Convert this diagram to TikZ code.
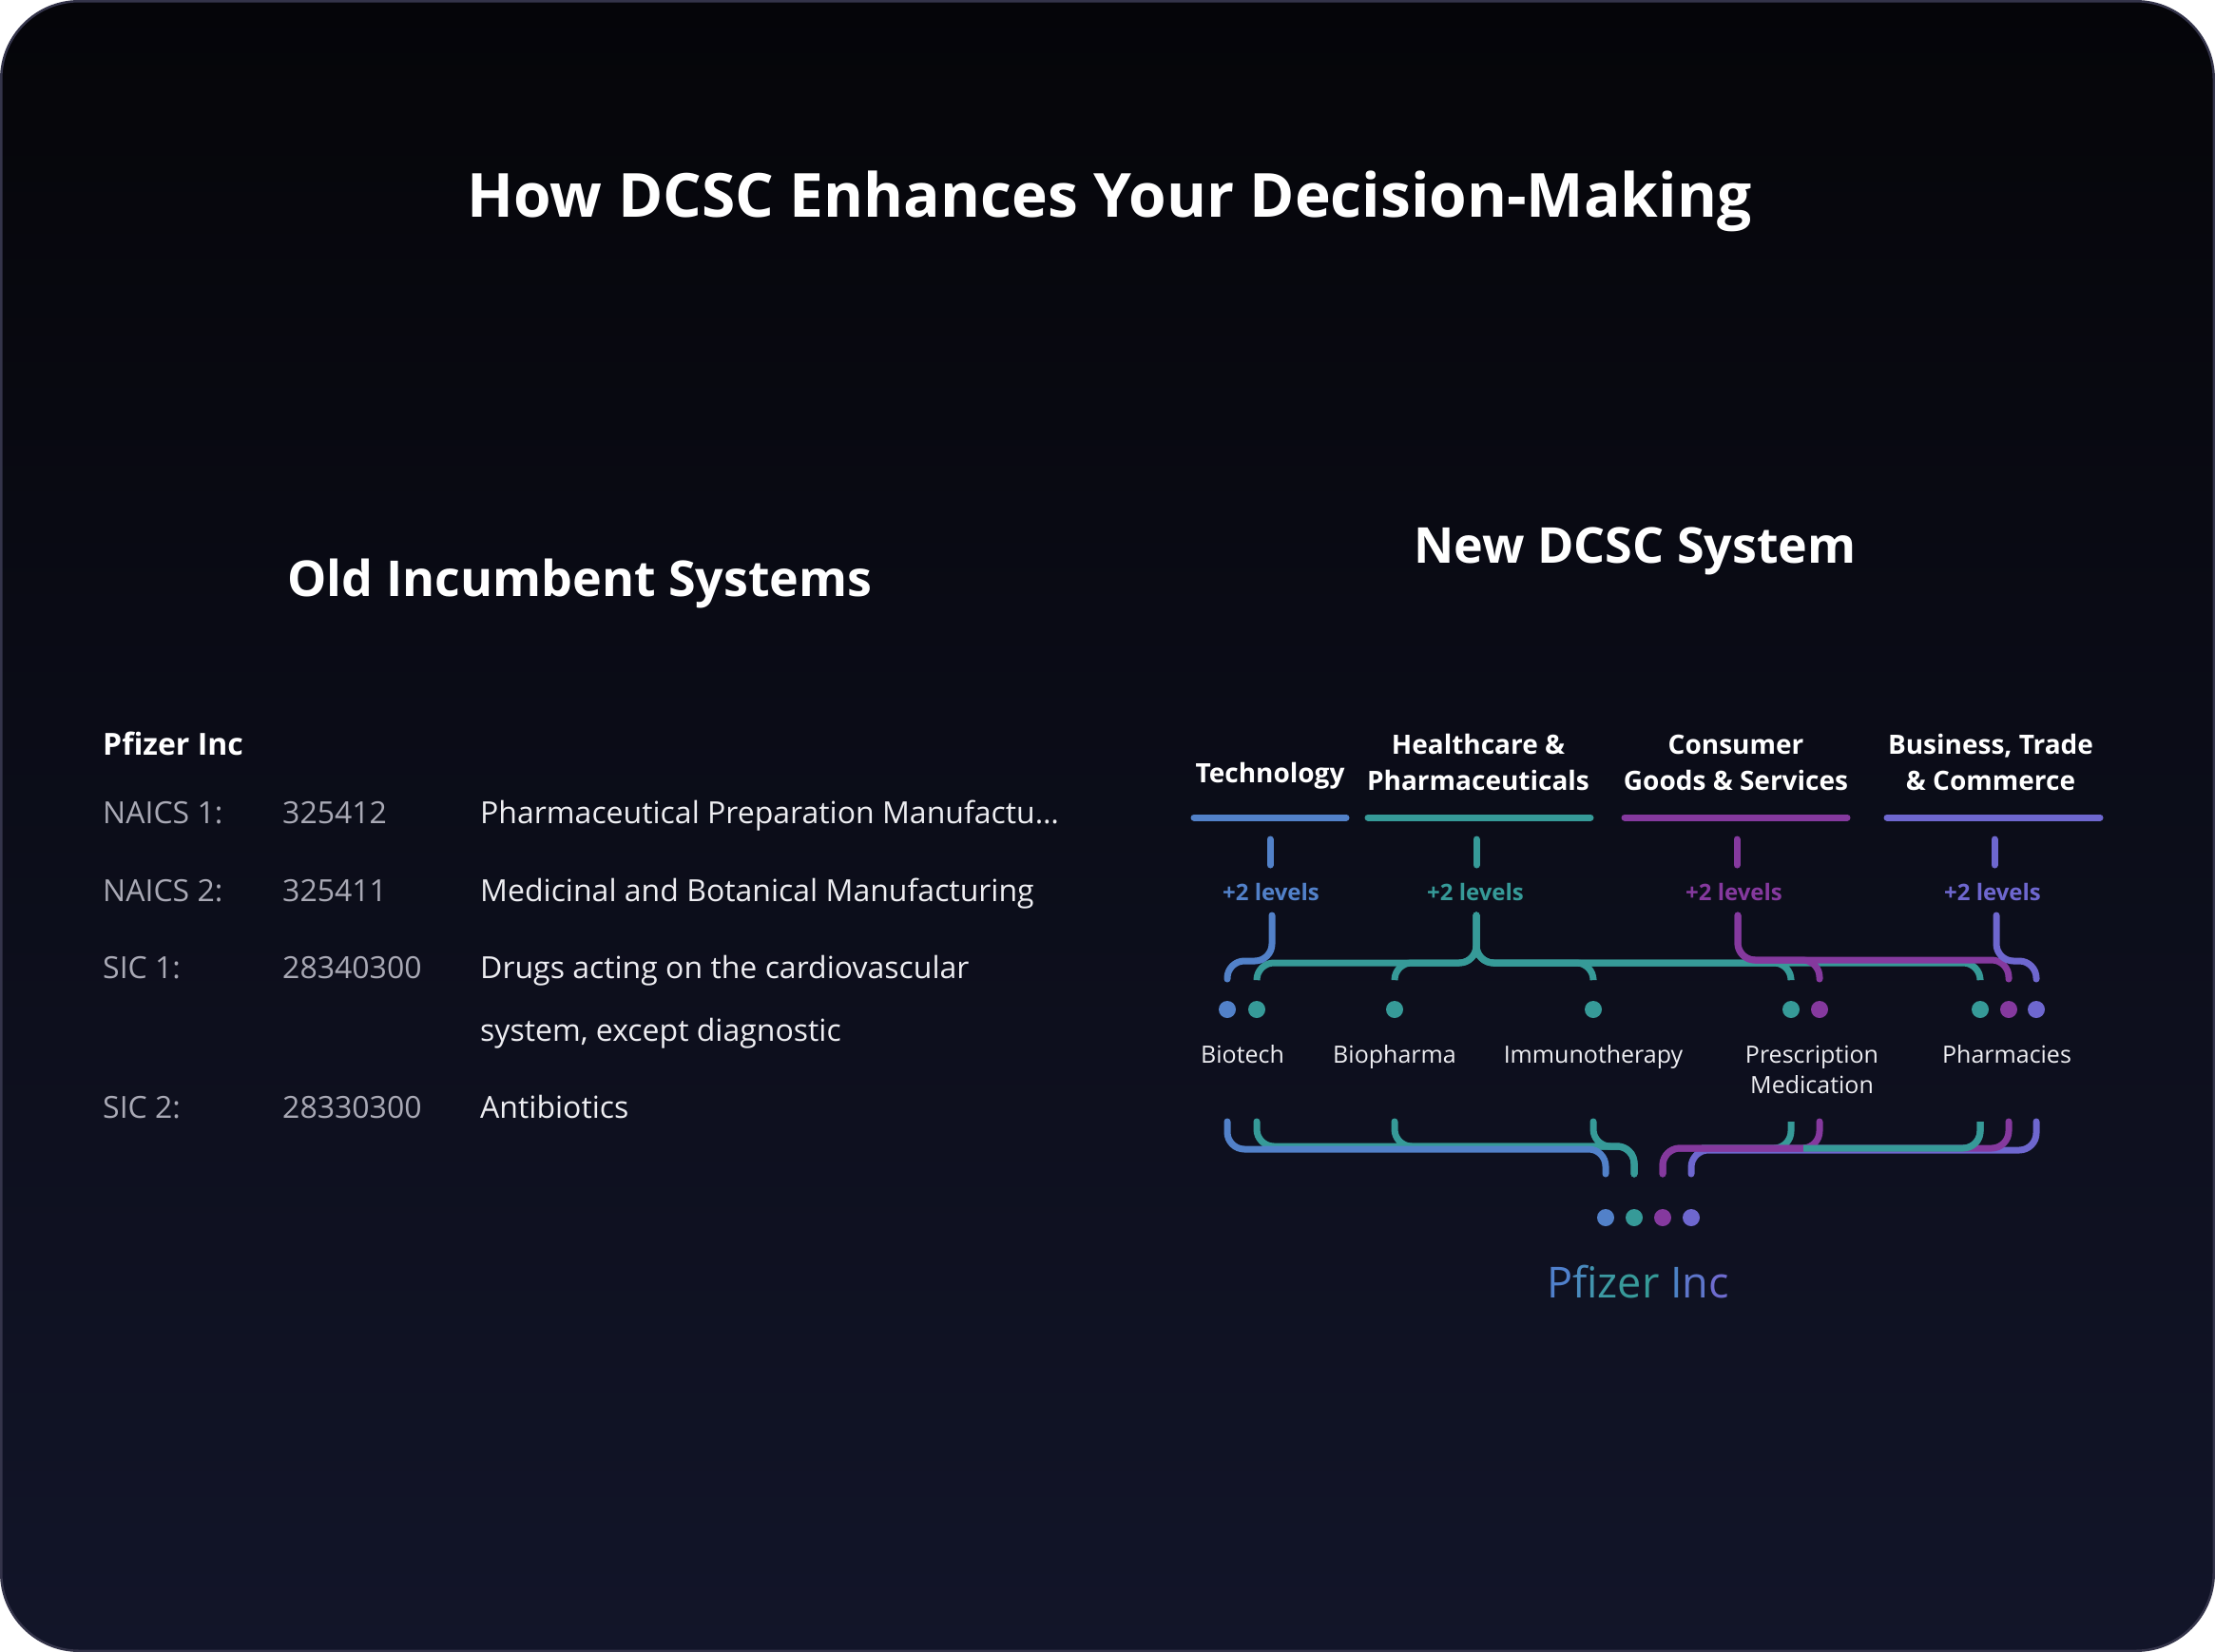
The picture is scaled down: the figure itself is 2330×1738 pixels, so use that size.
\documentclass[tikz,border=0pt]{standalone}
\usepackage{fontspec}
\setmainfont{Open Sans}
\definecolor{cblue}{HTML}{5281C9}
\definecolor{cteal}{HTML}{369A98}
\definecolor{cpurp}{HTML}{85399E}
\definecolor{cviol}{HTML}{6E67CF}
\definecolor{gtxt}{HTML}{A9A9B5}
\definecolor{wtxt}{HTML}{EEEEF2}
\definecolor{bgtop}{HTML}{050509}
\definecolor{bgbot}{HTML}{121529}
\definecolor{bord}{HTML}{34344A}
\definecolor{pA}{HTML}{5080CC}
\definecolor{pB}{HTML}{4A8BBF}
\definecolor{pC}{HTML}{4294AE}
\definecolor{pD}{HTML}{3C99A2}
\definecolor{pE}{HTML}{389A9A}
\definecolor{pF}{HTML}{369A98}
\definecolor{pG}{HTML}{4C82C6}
\definecolor{pH}{HTML}{5E76CB}
\definecolor{pI}{HTML}{6E6CCF}
\begin{document}
\begin{tikzpicture}[x=1pt,y=-1pt,
  lnk/.style={line width=7pt, line cap=round, rounded corners=18pt},
  stub/.style={line width=7pt, line cap=round},
  bar/.style={line width=7pt, line cap=round},
  dotn/.style={circle, inner sep=0pt, minimum size=18pt},
  cat/.style={anchor=base, text=white, inner sep=0pt, font=\fontsize{28pt}{38pt}\selectfont\bfseries, align=center},
  lvl/.style={anchor=base, inner sep=0pt, font=\fontsize{24pt}{30pt}\selectfont\bfseries},
  leaf/.style={anchor=base, text=wtxt, inner sep=0pt, font=\fontsize{25pt}{32pt}\selectfont, align=center},
  tlab/.style={anchor=base west, text=gtxt, inner sep=0pt, font=\fontsize{32pt}{40pt}\selectfont},
  tdesc/.style={anchor=base west, text=wtxt, inner sep=0pt, font=\fontsize{32pt}{40pt}\selectfont},
  head/.style={anchor=base, text=white, inner sep=0pt, font=\fontsize{52pt}{62pt}\selectfont\bfseries}
]
% background
\fill[white] (0,0) rectangle (2330,1738);
\useasboundingbox (0,0) rectangle (2330,1738);
\shade[top color=bgtop, bottom color=bgbot, draw=bord, line width=2.5pt, rounded corners=82pt] (1.25,1.25) rectangle (2328.75,1736.75);

% titles
\node[anchor=base, text=white, inner sep=0pt, font=\fontsize{64pt}{76pt}\selectfont\bfseries] (title) at (1167,228) {How DCSC Enhances Your Decision-Making};
\node[head] (old) at (610,627) {Old Incumbent Systems};
\node[head] (new) at (1720,592) {New DCSC System};

% left table
\node[anchor=base west, text=white, inner sep=0pt, font=\fontsize{32pt}{40pt}\selectfont\bfseries] (pf) at (108,794) {Pfizer Inc};
\node[tlab] (l1) at (108,866) {NAICS 1:};
\node[tlab] (c1) at (297,866) {325412};
\node[tdesc] (x1) at (505,866) {Pharmaceutical Preparation Manufactu…};
\node[tlab] (l2) at (108,948) {NAICS 2:};
\node[tlab] (c2) at (297,948) {325411};
\node[tdesc] (x2) at (505,948) {Medicinal and Botanical Manufacturing};
\node[tlab] (l3) at (108,1029) {SIC 1:};
\node[tlab] (c3) at (297,1029) {28340300};
\node[tdesc] (x3) at (505,1029) {Drugs acting on the cardiovascular};
\node[tdesc] (x3b) at (505,1095) {system, except diagnostic};
\node[tlab] (l4) at (108,1176) {SIC 2:};
\node[tlab] (c4) at (297,1176) {28330300};
\node[tdesc] (x4) at (505,1176) {Antibiotics};

% categories (anchor base = baseline of the last line)
\node[cat] (kT) at (1336,823) {Technology};
\node[cat] (kH) at (1555,831) {Healthcare \&\\Pharmaceuticals};
\node[cat] (kC) at (1826,831) {Consumer\\Goods \& Services};
\node[cat] (kB) at (2094,831) {Business, Trade\\\& Commerce};

\draw[bar, cblue] (1256,860) -- (1416,860);
\draw[bar, cteal] (1439,860) -- (1673,860);
\draw[bar, cpurp] (1709,860) -- (1943,860);
\draw[bar, cviol] (1985,860) -- (2209,860);

\draw[stub, cblue] (1336,883) -- (1336,910);
\draw[stub, cteal] (1553,883) -- (1553,910);
\draw[stub, cpurp] (1827,883) -- (1827,910);
\draw[stub, cviol] (2098,883) -- (2098,910);

\node[lvl, text=cblue] (vT) at (1337,947) {+2 levels};
\node[lvl, text=cteal] (vH) at (1552,947) {+2 levels};
\node[lvl, text=cpurp] (vC) at (1824,947) {+2 levels};
\node[lvl, text=cviol] (vB) at (2096,947) {+2 levels};

% source points below the level labels
\coordinate (sT) at (1338,963);
\coordinate (sH) at (1553,963);
\coordinate (sC) at (1828,963);
\coordinate (sB) at (2100,963);
% horizontal levels
\coordinate (hTe) at (0,1013);
\coordinate (hBl) at (0,1011);
\coordinate (hPu) at (0,1010);
\coordinate (hVi) at (0,1011);
\coordinate (gTe) at (0,1206);
\coordinate (gBl) at (0,1209);
\coordinate (gPu) at (0,1208);
\coordinate (gVi) at (0,1210);

% leaf dots
\node[dotn, fill=cblue] (dBtB) at (1291,1062) {};
\node[dotn, fill=cteal] (dBtT) at (1322,1062) {};
\node[dotn, fill=cteal] (dBpT) at (1467,1062) {};
\node[dotn, fill=cteal] (dImT) at (1676,1062) {};
\node[dotn, fill=cteal] (dPrT) at (1884,1062) {};
\node[dotn, fill=cpurp] (dPrP) at (1914,1062) {};
\node[dotn, fill=cteal] (dPhT) at (2083,1062) {};
\node[dotn, fill=cpurp] (dPhP) at (2113,1062) {};
\node[dotn, fill=cviol] (dPhV) at (2142,1062) {};

% bottom dots
\node[dotn, fill=cblue] (bB) at (1689,1281) {};
\node[dotn, fill=cteal] (bT) at (1719,1281) {};
\node[dotn, fill=cpurp] (bP) at (1749,1281) {};
\node[dotn, fill=cviol] (bV) at (1779,1281) {};

% leaf labels
\node[leaf] (nBt) at (1307,1118) {Biotech};
\node[leaf] (nBp) at (1467,1118) {Biopharma};
\node[leaf] (nIm) at (1676,1118) {Immunotherapy};
\node[leaf] (nPr) at (1906,1150) {Prescription\\Medication};
\node[leaf] (nPh) at (2111,1118) {Pharmacies};

% top connectors
\foreach \d in {dBtT,dBpT,dImT,dPrT,dPhT}
  \draw[lnk, cteal] (sH) |- (hTe -| \d) -- ([yshift=32pt]\d.center);
\draw[lnk, cblue] (sT) |- (hBl -| dBtB) -- ([yshift=32pt]dBtB.center);
\foreach \d in {dPrP,dPhP}
  \draw[lnk, cpurp] (sC) |- (hPu -| \d) -- ([yshift=32pt]\d.center);
\draw[lnk, cviol] (sB) |- (hVi -| dPhV) -- ([yshift=32pt]dPhV.center);

% bottom connectors
\coordinate (tMid) at (1790,1208);
\foreach \d in {dBtT,dBpT}
  \draw[lnk, cteal] ([yshift=-118pt]\d.center) |- (gTe -| bT) -- ([yshift=46pt]bT.center);
\foreach \d in {dPrT,dPhT}
  \draw[lnk, cteal, line cap=butt] ([yshift=-118pt]\d.center) |- (tMid);
\draw[lnk, cblue] ([yshift=-118pt]dBtB.center) |- (gBl -| bB) -- ([yshift=46pt]bB.center);
\draw[lnk, cteal] ([yshift=-118pt]dImT.center) |- (gTe -| bT) -- ([yshift=46pt]bT.center);
\draw[lnk, cviol] ([yshift=-118pt]dPhV.center) |- (gVi -| bV) -- ([yshift=46pt]bV.center);
\foreach \d in {dPrP,dPhP}
  \draw[lnk, cpurp] ([yshift=-118pt]\d.center) |- (gPu -| bP) -- ([yshift=46pt]bP.center);
\coordinate (tEnd) at (1897,1208);
\draw[lnk, cteal, line cap=butt] ([yshift=-118pt]dPhT.center) |- (tEnd);

% company name
\node[anchor=base, inner sep=0pt, font=\fontsize{45pt}{54pt}\selectfont] (co) at (1723,1365)
  {\textcolor{pA}{P}\textcolor{pB}{f}\textcolor{pC}{i}\textcolor{pD}{z}\textcolor{pE}{e}\textcolor{pF}{r} \textcolor{pG}{I}\textcolor{pH}{n}\textcolor{pI}{c}};
\end{tikzpicture}
\end{document}
